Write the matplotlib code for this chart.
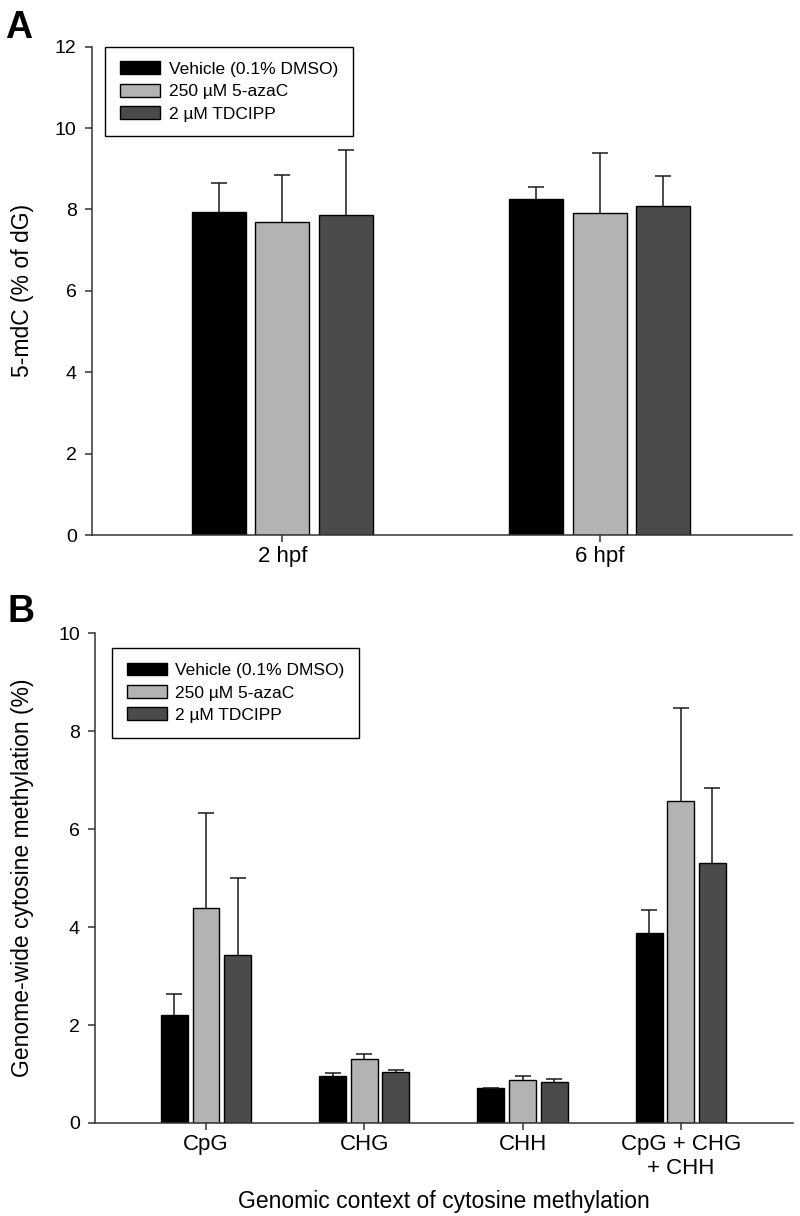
import matplotlib
matplotlib.use("Agg")
import matplotlib.pyplot as plt
import numpy as np

# legend labels and colours
treatments = ['Vehicle (0.1% DMSO)', '250 µM 5-azaC', '2 µM TDCIPP']
bar_colors = ['#000000', '#b3b3b3', '#4b4b4b']

# panel A: 5-mdC (% of dG)
stages = ['2 hpf', '6 hpf']
a_vehicle = [7.95, 8.26]
a_azac = [7.68, 7.91]
a_tdcipp = [7.87, 8.09]
a_vehicle_err = [0.70, 0.30]
a_azac_err = [1.16, 1.48]
a_tdcipp_err = [1.60, 0.74]

# panel B: genome-wide cytosine methylation (%)
contexts = ['CpG', 'CHG', 'CHH', 'CpG + CHG\n+ CHH']
b_vehicle = [2.21, 0.96, 0.71, 3.87]
b_azac = [4.40, 1.30, 0.87, 6.57]
b_tdcipp = [3.44, 1.04, 0.84, 5.30]
b_vehicle_err = [0.42, 0.06, 0.0, 0.47]
b_azac_err = [1.93, 0.10, 0.08, 1.90]
b_tdcipp_err = [1.56, 0.05, 0.05, 1.55]


def bar_panel(ax, cats, series, errors, width, step):
    x = np.arange(len(cats))
    for i, (vals, errs) in enumerate(zip(series, errors)):
        pos = x + (i - 1) * step
        ax.bar(pos, vals, width, color=bar_colors[i], edgecolor='black',
               linewidth=1.0, label=treatments[i], zorder=2)
        eb = ax.errorbar(pos, vals, yerr=[np.zeros(len(vals)), errs],
                         fmt='none', ecolor='#1a1a1a', elinewidth=1.1,
                         capsize=5.5, capthick=1.1, zorder=3)
        # only the upper caps are drawn
        eb[1][0].set_visible(False)
    ax.set_xticks(x)
    ax.set_xticklabels(cats, fontsize=16)
    for s in ['top', 'right']:
        ax.spines[s].set_visible(False)
    for s in ['left', 'bottom']:
        ax.spines[s].set_linewidth(1.1)
        ax.spines[s].set_color('#333333')
    ax.tick_params(axis='both', direction='out', length=5, width=1.1,
                   color='#333333')
    ax.tick_params(axis='y', labelsize=14, pad=6)
    ax.tick_params(axis='x', pad=3)


def add_legend(ax, anchor):
    leg = ax.legend(loc='upper left', bbox_to_anchor=anchor, fontsize=12.5,
                    frameon=True, fancybox=False, framealpha=1,
                    edgecolor='black', borderpad=0.85, handlelength=2.3,
                    handleheight=0.75, handletextpad=0.5, labelspacing=0.4,
                    borderaxespad=0)
    leg.get_frame().set_linewidth(1.0)


def main():
    plt.rcParams['font.family'] = ['Liberation Sans', 'DejaVu Sans']

    fig = plt.figure(figsize=(8, 12.16), dpi=100)

    ax1 = fig.add_axes([0.115, 0.560, 0.875, 0.4016])
    bar_panel(ax1, stages, [a_vehicle, a_azac, a_tdcipp],
              [a_vehicle_err, a_azac_err, a_tdcipp_err], 0.17, 0.2)
    ax1.set_xlim(-0.6, 1.606)
    ax1.set_ylim(0, 12)
    ax1.set_yticks(range(0, 13, 2))
    ax1.set_ylabel('5-mdC (% of dG)', fontsize=16.5)
    ax1.yaxis.set_label_coords(-0.083, 0.5)
    add_legend(ax1, (0.019, 1.0))

    ax2 = fig.add_axes([0.119, 0.0765, 0.8725, 0.4027])
    bar_panel(ax2, contexts, [b_vehicle, b_azac, b_tdcipp],
              [b_vehicle_err, b_azac_err, b_tdcipp_err], 0.17, 0.2)
    ax2.set_xlim(-0.7, 3.71)
    ax2.set_ylim(0, 10)
    ax2.set_yticks(range(0, 11, 2))
    ax2.set_ylabel('Genome-wide cytosine methylation (%)', fontsize=16.5)
    ax2.yaxis.set_label_coords(-0.087, 0.5)
    ax2.set_xlabel('Genomic context of cytosine methylation', fontsize=16.5,
                   labelpad=8)
    add_legend(ax2, (0.024, 0.970))

    fig.text(5 / 800, 1 - 10 / 1216, 'A', fontsize=27, fontweight='bold',
             ha='left', va='top')
    fig.text(7 / 800, 1 - 594 / 1216, 'B', fontsize=27, fontweight='bold',
             ha='left', va='top')

    fig.savefig('out.png', dpi=100)


if __name__ == "__main__":
    main()
